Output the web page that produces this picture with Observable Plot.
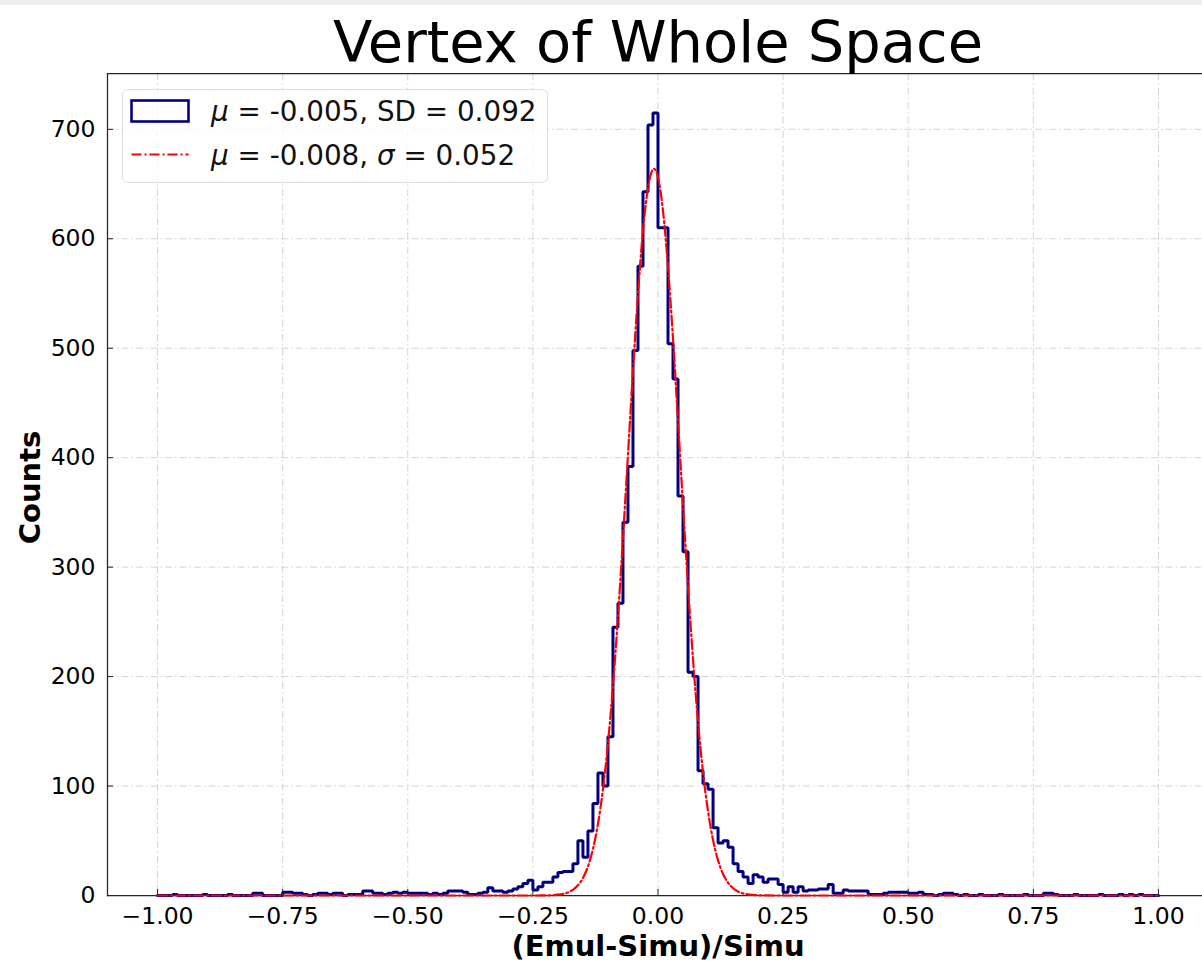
<!DOCTYPE html>
<html>
<head>
<meta charset="utf-8">
<script src="https://cdn.jsdelivr.net/npm/d3@7"></script>
<script src="https://cdn.jsdelivr.net/npm/@observablehq/plot@0.6"></script>
<style>
html, body { margin: 0; padding: 0; background: #ffffff; }
#wrap { position: relative; width: 1202px; height: 963px; overflow: hidden; font-family: "DejaVu Sans", sans-serif; }
#band { position: absolute; left: 0; top: 0; width: 1202px; height: 5px; background: #eeeeee; }
#legend { position: absolute; left: 122px; top: 89px; }
</style>
</head>
<body>
<div id="wrap">
  <div id="chart"></div>
  <div id="band"></div>
  <svg id="legend" width="426" height="94" xmlns="http://www.w3.org/2000/svg"></svg>
</div>
<script>
// ---- data ----
const title = "Vertex of Whole Space";
const xLabel = "(Emul-Simu)/Simu";
const yLabel = "Counts";

const binStart = -1;
const binWidth = 0.01;
// histogram counts, 200 bins of width 0.01 from -1 to 1
const counts = [
  0,0,0,1,0,0,0,0,0,1,
  0,0,0,0,1,0,0,0,0,2,
  2,0,0,0,0,3,3,2,2,1,
  0,1,2,2,1,2,2,0,1,1,
  1,4,4,2,2,1,2,3,2,3,
  2,2,2,2,1,2,1,2,4,4,
  4,3,1,1,2,3,7,4,4,3,
  4,6,8,11,14,5,8,12,12,17,
  21,22,22,29,50,35,59,84,112,100,
  145,245,267,341,392,498,575,643,704,715,
  610,610,504,472,365,314,204,200,114,102,
  97,62,48,50,44,29,22,17,11,19,
  17,12,15,15,10,3,8,3,8,4,
  5,5,6,6,10,2,2,5,4,4,
  4,4,1,1,1,2,3,3,3,3,
  2,2,3,1,1,0,1,2,2,1,
  0,1,0,0,1,0,0,0,1,0,
  0,0,0,1,0,0,0,2,2,1,
  0,0,0,1,0,0,0,0,1,0,
  0,0,1,0,1,0,1,0,0,0
];

const fitX = [-1.0, -0.30, -0.25, -0.22, -0.20, -0.18, -0.17, -0.16, -0.15, -0.14, -0.13, -0.12, -0.11,
  -0.10, -0.09, -0.08, -0.07, -0.06, -0.05, -0.04, -0.03, -0.02, -0.01, -0.008, 0.00, 0.01, 0.02, 0.03,
  0.04, 0.05, 0.06, 0.07, 0.08, 0.09, 0.10, 0.11, 0.12, 0.13, 0.14, 0.15, 0.16, 0.17, 0.18, 0.20,
  0.22, 0.25, 0.30, 1.0];
const fitY = [0, 0, 0.01, 0.16, 0.73, 2.8, 5.2, 9.3, 15.9, 26.5, 42.4, 65.3, 97.0,
  138.8, 191.6, 254.5, 326.2, 402.7, 479.2, 549.5, 607.2, 646.5, 663.5, 664, 656.2, 625.4, 574.4, 508.4,
  433.6, 356.4, 282.4, 215.6, 158.6, 112.4, 76.8, 50.6, 32.1, 19.6, 11.6, 6.6, 3.6, 1.9, 0.96, 0.22,
  0.04, 0, 0, 0];

const xTicks = [-1, -0.75, -0.5, -0.25, 0, 0.25, 0.5, 0.75, 1];
const yTicks = [0, 100, 200, 300, 400, 500, 600, 700];

const histLegend = { mu: "-0.005", sd: "0.092" };
const fitLegend = { mu: "-0.008", sigma: "0.052" };

// ---- build tables ----
const edges = counts.map((_, i) => +(binStart + i * binWidth).toFixed(2));
const binEnd = +(binStart + counts.length * binWidth).toFixed(2);
const histPts = [{x: binStart, y: 0}]
  .concat(counts.map((c, i) => ({x: edges[i], y: c})))
  .concat([{x: binEnd, y: counts[counts.length - 1]}, {x: binEnd, y: 0}]);
const fitPts = fitX.map((x, i) => ({x, y: fitY[i]}));

const spine = "#262626";
const gridStyle = {stroke: "#d4d4d4", strokeOpacity: 1, strokeWidth: 1, strokeDasharray: "7,3,1.5,3"};

const chart = Plot.plot({
  width: 1202,
  height: 963,
  marginLeft: 107,
  marginRight: 0,
  marginTop: 73,
  marginBottom: 68,
  x: {domain: [-1.1, 1.088]},
  y: {domain: [0, 751]},
  style: {fontFamily: "DejaVu Sans", fontSize: "23px", color: "black", background: "transparent", overflow: "visible"},
  marks: [
    Plot.gridX(xTicks, gridStyle),
    Plot.gridY(yTicks, gridStyle),
    Plot.frame({anchor: "top", stroke: spine, strokeWidth: 1.25}),
    Plot.frame({anchor: "left", stroke: spine, strokeWidth: 1.25}),
    Plot.frame({anchor: "bottom", stroke: spine, strokeWidth: 1.25}),
    Plot.line(histPts, {x: "x", y: "y", curve: "step-after", stroke: "#000080", strokeWidth: 3, strokeLinejoin: "miter"}),
    Plot.line(fitPts, {x: "x", y: "y", curve: "monotone-x", stroke: "#ff0000", strokeWidth: 2.2, strokeDasharray: "10,3,2,3"}),
    Plot.axisX(xTicks, {tickSize: -6, tickPadding: 18, tickFormat: d3.format(".2f"), fontSize: 23.5, label: null, stroke: spine, fill: "black"}),
    Plot.axisY(yTicks, {tickSize: -6, tickPadding: 18, fontSize: 23.5, label: null, stroke: spine, fill: "black"}),
    Plot.text([yLabel], {text: d => d, frameAnchor: "left", textAnchor: "middle", lineAnchor: "middle", dx: -77, dy: 3, rotate: -90, fontSize: 29, fontWeight: "bold", fill: "black"}),
    Plot.text([xLabel], {text: d => d, frameAnchor: "bottom", textAnchor: "middle", lineAnchor: "bottom", dx: 3, dy: 60, fontSize: 29, fontWeight: "bold", fill: "black"}),
    Plot.text([title], {text: d => d, frameAnchor: "top", textAnchor: "middle", lineAnchor: "top", dx: 3, dy: -52, fontSize: 57.5, fill: "black"})
  ]
});
document.getElementById("chart").appendChild(chart);

// ---- legend ----
const ns = "http://www.w3.org/2000/svg";
const lg = document.getElementById("legend");
function el(tag, attrs, parent) {
  const e = document.createElementNS(ns, tag);
  for (const k in attrs) e.setAttribute(k, attrs[k]);
  (parent || lg).appendChild(e);
  return e;
}
el("rect", {x: 0.5, y: 0.5, width: 425, height: 93, rx: 5, fill: "#ffffff", "fill-opacity": 0.8, stroke: "#dcdcdc", "stroke-width": 1});
el("rect", {x: 9.5, y: 11.5, width: 57, height: 21, fill: "none", stroke: "#000080", "stroke-width": 2.6});
el("line", {x1: 9.5, x2: 66.5, y1: 65.5, y2: 65.5, stroke: "#ff0000", "stroke-width": 2.2, "stroke-dasharray": "10,3,2,3"});
{
  const t = el("text", {x: 89, y: 32, "font-family": "DejaVu Sans", "font-size": 27.8, fill: "#111"});
  const a = el("tspan", {"font-style": "italic"}, t); a.textContent = "μ";
  const b = el("tspan", {}, t); b.textContent = ` = ${histLegend.mu}, SD = ${histLegend.sd}`;
}
{
  const t = el("text", {x: 89, y: 76, "font-family": "DejaVu Sans", "font-size": 27.8, fill: "#111"});
  const a = el("tspan", {"font-style": "italic"}, t); a.textContent = "μ";
  const b = el("tspan", {}, t); b.textContent = ` = ${fitLegend.mu}, `;
  const c = el("tspan", {"font-style": "italic"}, t); c.textContent = "σ";
  const d = el("tspan", {}, t); d.textContent = ` = ${fitLegend.sigma}`;
}
</script>
</body>
</html>
